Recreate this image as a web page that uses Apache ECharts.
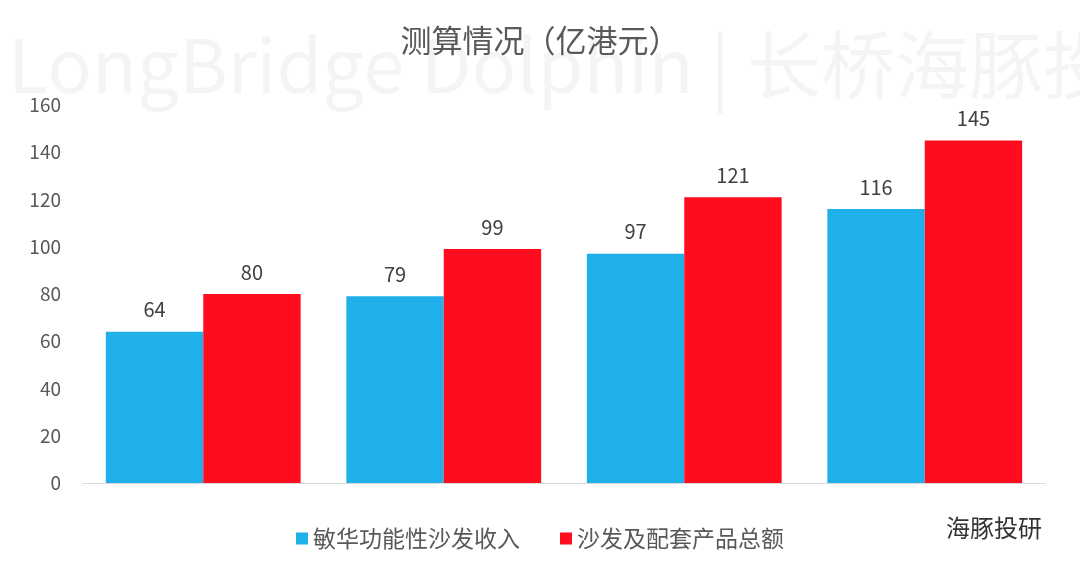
<!DOCTYPE html>
<html><head><meta charset="utf-8">
<script src="https://cdn.jsdelivr.net/npm/echarts@6/dist/echarts.min.js"></script>
<style>html,body{margin:0;padding:0;background:#fff}#c{width:1080px;height:579px}</style>
</head><body><div id="c"></div>
<script>
const categories = ['1', '2', '3', '4'];
const seriesNames = ['敏华功能性沙发收入', '沙发及配套产品总额'];
const revenue = [64, 79, 97, 116];
const total = [80, 99, 121, 145];
const yTicks = [0, 20, 40, 60, 80, 100, 120, 140, 160];

const chart = echarts.init(document.getElementById('c'));
const font = '"Noto Sans CJK SC", "Microsoft YaHei", sans-serif';
chart.setOption({
  animation: false,
  textStyle: { fontFamily: font },
  title: { text: '测算情况（亿港元）', left: 'center', top: 20,
    textStyle: { fontSize: 31, fontWeight: 'normal', color: '#595959', fontFamily: font } },
  graphic: [
    { type: 'text', left: 8, top: 28, silent: true, z: -1,
      style: { text: 'LongBridge Dolphin | 长桥海豚投研', font: '74px "Liberation Sans Narrow", "Noto Sans CJK SC", sans-serif', fill: 'rgba(0,0,0,0.045)' } },
    { type: 'text', right: 38, top: 516,
      style: { text: '海豚投研', font: '24px "Noto Sans CJK SC", sans-serif', fill: '#333' } }
  ],
  legend: { bottom: 24, left: 'center', itemWidth: 12, itemHeight: 12, itemGap: 40, icon: 'rect',
    textStyle: { fontSize: 23, color: '#595959' } },
  grid: { left: 83, right: 35, top: 105, bottom: 96 },
  xAxis: { type: 'category', data: categories,
    axisLine: { lineStyle: { color: '#d9d9d9' } }, axisTick: { show: false }, axisLabel: { show: false } },
  yAxis: { type: 'value', min: 0, max: 160, interval: 20,
    axisLabel: { fontSize: 19, color: '#595959', margin: 22,
      formatter: v => yTicks.includes(v) ? String(v) : '' },
    axisLine: { show: false }, axisTick: { show: false }, splitLine: { show: false } },
  series: [
    { name: seriesNames[0], type: 'bar', data: revenue, itemStyle: { color: '#1fb0ea' },
      barGap: '0%', barCategoryGap: '19%',
      label: { show: true, position: 'top', distance: 12, fontSize: 20, color: '#404040' } },
    { name: seriesNames[1], type: 'bar', data: total, itemStyle: { color: '#ff0d1f' },
      label: { show: true, position: 'top', distance: 12, fontSize: 20, color: '#404040' } }
  ]
});
</script></body></html>
